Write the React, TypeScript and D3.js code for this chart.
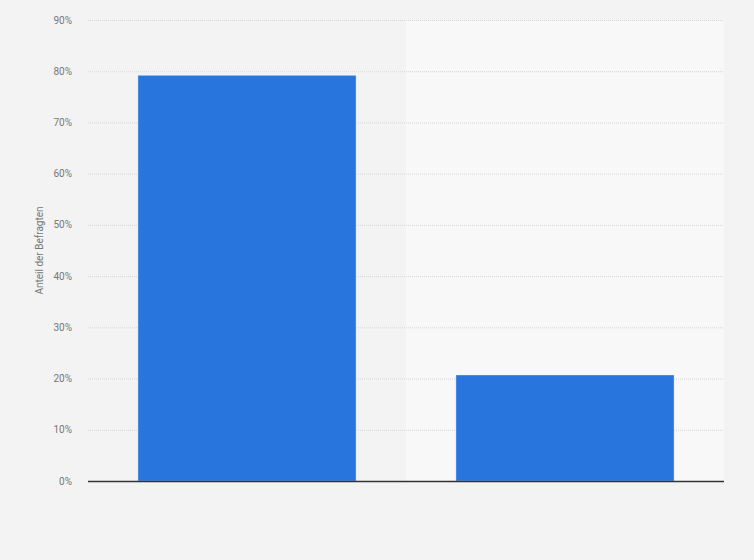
import React, { useEffect, useRef } from 'react';
import * as d3 from 'd3';

const categories = ['Ja', 'Nein'];
const values = [79.2, 20.7];
const yTicks = [0, 10, 20, 30, 40, 50, 60, 70, 80, 90];
const yLabel = 'Anteil der Befragten';

const App: React.FC = () => {
  const svgRef = useRef<SVGSVGElement>(null);

  useEffect(() => {
    if (!svgRef.current) return;
    d3.select(svgRef.current).selectAll('*').remove();

    const width = 754;
    const height = 560;
    const margin = { top: 20, right: 30, bottom: 79, left: 88 };

    const svg = d3.select(svgRef.current)
      .attr('width', width)
      .attr('height', height);

    svg.append('rect')
      .attr('width', width)
      .attr('height', height)
      .attr('fill', '#f3f3f3');

    const x = d3.scaleBand<string>()
      .domain(categories)
      .range([margin.left, width - margin.right])
      .paddingInner(0.314)
      .paddingOuter(0.157);

    const y = d3.scaleLinear()
      .domain([0, 90])
      .range([height - margin.bottom, margin.top]);

    // alternating band background
    const step = x.step();
    svg.append('g')
      .selectAll('rect')
      .data(categories)
      .enter()
      .append('rect')
      .attr('x', d => (x(d) as number) - step * x.paddingOuter())
      .attr('y', y(90))
      .attr('width', step)
      .attr('height', y(0) - y(90))
      .attr('fill', (d, i) => (i % 2 === 1 ? '#f8f8f8' : 'none'));

    // grid lines
    svg.append('g')
      .selectAll('line')
      .data(yTicks.filter(t => t > 0))
      .enter()
      .append('line')
      .attr('x1', margin.left)
      .attr('x2', width - margin.right)
      .attr('y1', d => y(d) + 0.5)
      .attr('y2', d => y(d) + 0.5)
      .attr('stroke', '#d6d6d6')
      .attr('stroke-width', 1)
      .attr('stroke-dasharray', '1,1');

    // tick labels
    svg.append('g')
      .selectAll('text')
      .data(yTicks)
      .enter()
      .append('text')
      .attr('x', 72)
      .attr('y', d => y(d))
      .attr('dy', '0.35em')
      .attr('text-anchor', 'end')
      .attr('font-family', 'Roboto, Arial, sans-serif')
      .attr('font-size', 10)
      .attr('fill', '#777')
      .text(d => `${d}%`);

    // bars
    svg.append('g')
      .selectAll('rect')
      .data(values)
      .enter()
      .append('rect')
      .attr('x', (d, i) => x(categories[i]) as number)
      .attr('y', d => y(d))
      .attr('width', x.bandwidth())
      .attr('height', d => y(0) - y(d))
      .attr('fill', '#2876dd')
      .attr('stroke', 'rgba(255,255,255,0.35)')
      .attr('stroke-width', 1);

    // baseline
    svg.append('line')
      .attr('x1', margin.left)
      .attr('x2', width - margin.right)
      .attr('y1', y(0) + 0.5)
      .attr('y2', y(0) + 0.5)
      .attr('stroke', '#333')
      .attr('stroke-width', 1.3);

    // y-axis title
    svg.append('text')
      .attr('transform', `translate(43,${(y(0) + y(90)) / 2}) rotate(-90)`)
      .attr('text-anchor', 'middle')
      .attr('font-family', 'Roboto, Arial, sans-serif')
      .attr('font-size', 10)
      .attr('fill', '#777')
      .text(yLabel);
  }, []);

  return (
    <div style={{ position: 'absolute', left: 0, top: 0 }}>
      <svg ref={svgRef} style={{ display: 'block' }}></svg>
    </div>
  );
};

export default App;
